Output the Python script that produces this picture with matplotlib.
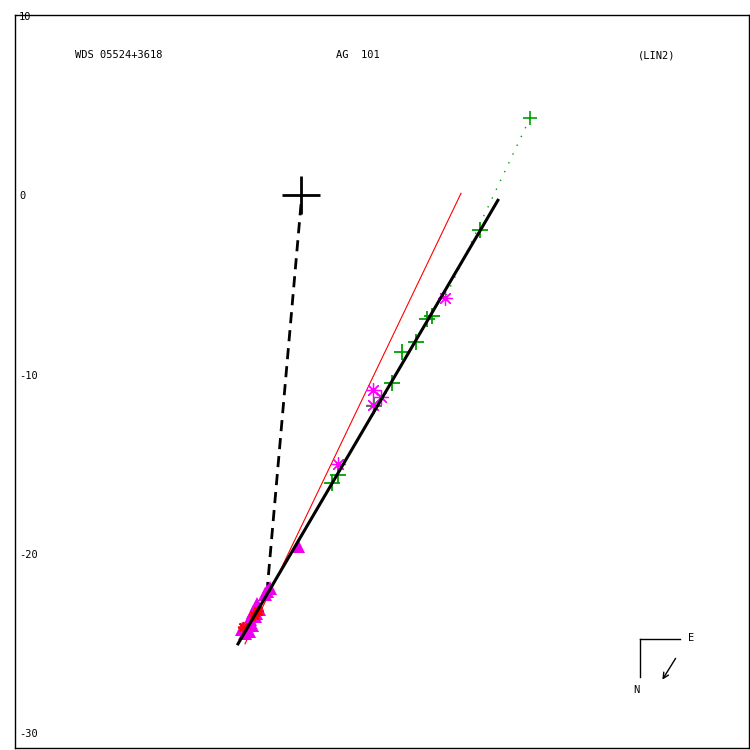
import numpy as np
import matplotlib
matplotlib.use("Agg")
import matplotlib.pyplot as plt

green_x = [10.0, 7.32, 7.04, 6.42, 5.64, 5.08, 4.08, 2.07, 1.73]
green_y = [-1.96, -6.76, -6.93, -8.21, -8.72, -10.50, -11.73, -15.59, -16.03]

star_x = [8.04, 4.02, 4.47, 4.02, 2.07]
star_y = [-5.75, -10.89, -11.23, -11.68, -14.97]

tri_x = [-0.17, -1.73, -1.90, -2.01, -2.46, -2.35, -2.68, -2.57, -2.85, -2.96, -2.74, -3.07, -2.91, -3.13, -3.30, -2.50]
tri_y = [-19.55, -21.90, -22.07, -22.23, -22.79, -23.07, -23.24, -23.46, -23.63, -23.85, -23.97, -24.13, -24.30, -24.41, -24.20, -23.30]

red_x = [-2.40, -2.63, -3.24]
red_y = [-23.18, -23.41, -24.08]

# fitted lines
fit_x = [-3.52, 11.0]
fit_y = [-25.03, -0.28]
red_line_x = [-3.13, 8.94]
red_line_y = [-25.03, 0.11]
dash_x = [0.0, -1.90]
dash_y = [-0.5, -22.10]
pred_x = [12.79, 8.04]
pred_y = [4.30, -5.75]

yticks = [10, 0, -10, -20, -30]

green = "#00a000"
magenta = "#ff00ff"

fig = plt.figure(figsize=(7.5, 7.5), dpi=100)
ax = fig.add_axes([15/750, 2/750, 734/750, 733/750])

ax.plot(dash_x, dash_y, color="black", lw=2, linestyle=(0, (4, 2.5)))
ax.plot(red_line_x, red_line_y, color="red", lw=0.8)
ax.plot(pred_x, pred_y, color=green, lw=1, linestyle=(0, (1, 6)))

ax.plot(tri_x, tri_y, linestyle="none", marker="^", color="#ee00ee", markersize=10.5, markeredgewidth=0)
ax.plot(red_x, red_y, linestyle="none", marker=(8, 2, 0), color="red", markersize=8, markeredgewidth=1.2)
ax.plot(green_x, green_y, linestyle="none", marker="+", color=green, markersize=11, markeredgewidth=1.3)
ax.plot(star_x, star_y, linestyle="none", marker=(8, 2, 0), color=magenta, markersize=10.5, markeredgewidth=0.9)
ax.plot(star_x, star_y, linestyle="none", marker="o", color=magenta, markersize=2.5)

ax.plot(fit_x, fit_y, color="black", lw=2.2)

ax.plot([0], [0], marker="+", color="black", markersize=27, markeredgewidth=2)
ax.plot(pred_x[:1], pred_y[:1], marker="+", color=green, markersize=10, markeredgewidth=1.2)

ax.set_xlim(-15.98, 25.03)
ax.set_ylim(-30.84, 10.06)
ax.set_xticks([])
ax.set_yticks(yticks)
ax.set_yticklabels([str(t) for t in yticks], family="DejaVu Sans Mono", fontsize=7.5)
ax.tick_params(axis="y", direction="in", length=0, pad=-3)
for lab in ax.get_yticklabels():
    lab.set_horizontalalignment("left")
for sp in ax.spines.values():
    sp.set_linewidth(1)

mono = dict(family="DejaVu Sans Mono", fontsize=7.5, transform=ax.transAxes, va="center")
ax.text(0.0817, 0.945, "WDS 05524+3618", ha="left", **mono)
ax.text(0.437, 0.945, "AG  101", ha="left", **mono)
ax.text(0.849, 0.945, "(LIN2)", ha="left", **mono)

# compass
ax.plot([0.8515, 0.906], [0.1487, 0.1487], color="black", lw=1, transform=ax.transAxes)
ax.plot([0.8515, 0.8515], [0.1487, 0.0969], color="black", lw=1, transform=ax.transAxes)
ax.text(0.917, 0.150, "E", ha="left", **mono)
ax.text(0.847, 0.079, "N", ha="center", **mono)
ax.annotate("", xy=(0.880, 0.090), xytext=(0.902, 0.1255), xycoords="axes fraction",
            arrowprops=dict(arrowstyle="->", color="black", lw=1))

fig.savefig("out.png", dpi=100)
